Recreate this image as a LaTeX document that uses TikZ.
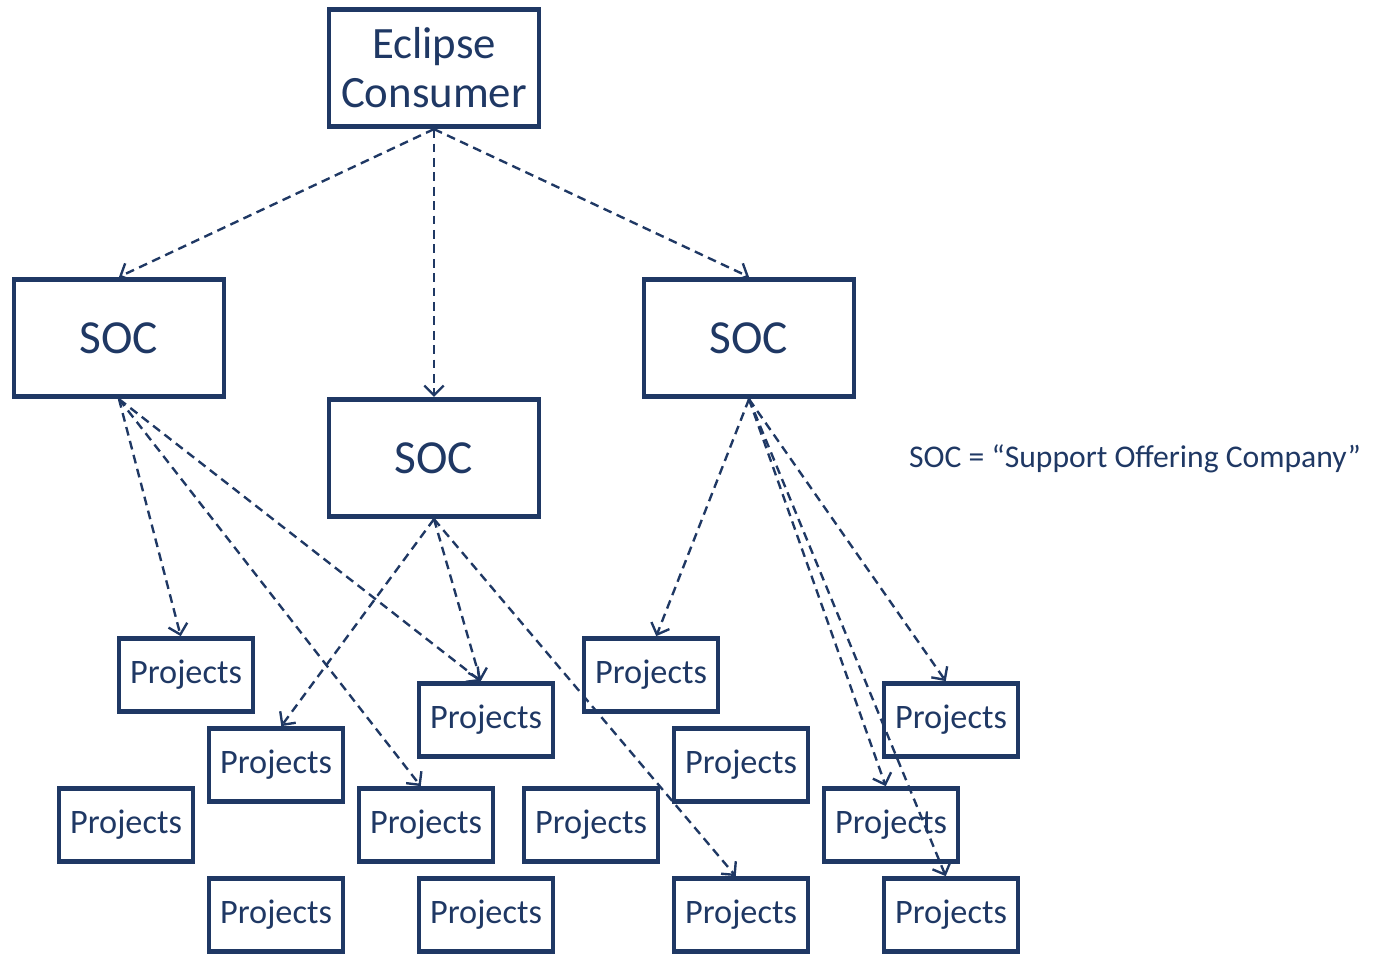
\documentclass[tikz,border=0pt]{standalone}
\usepackage{fontspec}
\setmainfont{Carlito}
\usetikzlibrary{arrows.meta}
\definecolor{navy}{HTML}{1F3864}
\begin{document}
\begin{tikzpicture}%
	[x=0.02cm, y=-0.02cm,
	box/.style={draw=navy, line width=2.7pt, text=navy, inner sep=0pt},
	big/.style={box, minimum width=4.2cm, minimum height=2.35cm},
	proj/.style={box, minimum width=2.68cm, minimum height=1.46cm, font=\fontsize{19.5}{19.5}\selectfont},
	link/.style={navy, line width=1.35pt, dash pattern=on 5pt off 3.2pt, -{Straight Barb[length=5.5pt,width=11pt]}}]
%
\useasboundingbox (0,0) rectangle (1377,954);
%
%% The consumer and the companies:
%%
\node[big, align=center, font=\fontsize{25.5}{28}\selectfont] (eclipse) at (434,68) {Eclipse\\Consumer};
\node[big, font=\fontsize{27}{27}\selectfont] (socl) at (119,338) {SOC};
\node[big, font=\fontsize{27}{27}\selectfont] (socm) at (434,458) {SOC};
\node[big, font=\fontsize{27}{27}\selectfont] (socr) at (749,338) {SOC};
\node[text=navy, anchor=west, font=\fontsize{18}{18}\selectfont] (legend) at (903,459) {SOC = “Support Offering Company”};
%%
%%
%% The projects:
%%
\node[proj] (p1) at (186,675) {Projects};
\node[proj] (p2) at (486,720) {Projects};
\node[proj] (p3) at (651,675) {Projects};
\node[proj] (p4) at (951,720) {Projects};
\node[proj] (p5) at (276,765) {Projects};
\node[proj] (p6) at (741,765) {Projects};
\node[proj] (p7) at (126,825) {Projects};
\node[proj] (p8) at (426,825) {Projects};
\node[proj] (p9) at (591,825) {Projects};
\node[proj] (p10) at (891,825) {Projects};
\node[proj] (p11) at (276,915) {Projects};
\node[proj] (p12) at (486,915) {Projects};
\node[proj] (p13) at (741,915) {Projects};
\node[proj] (p14) at (951,915) {Projects};
%%
%%
%% The links:
%%
\draw[link] (eclipse.south) -- (socl.north);
\draw[link] (eclipse.south) -- (socm.north);
\draw[link] (eclipse.south) -- (socr.north);
\draw[link] (socl.south) -- ([xshift=-3]p1.north);
\draw[link] (socl.south) -- ([xshift=-3]p2.north);
\draw[link] (socl.south) -- ([xshift=-3]p8.north);
\draw[link] (socm.south) -- ([xshift=3]p5.north);
\draw[link] (socm.south) -- ([xshift=-3]p2.north);
\draw[link] (socm.south) -- ([xshift=-3]p13.north);
\draw[link] (socr.south) -- ([xshift=3]p3.north);
\draw[link] (socr.south) -- ([xshift=-3]p4.north);
\draw[link] (socr.south) -- ([xshift=-3]p10.north);
\draw[link] (socr.south) -- ([xshift=-3]p14.north);
%%
%%
\end{tikzpicture}
\end{document}
